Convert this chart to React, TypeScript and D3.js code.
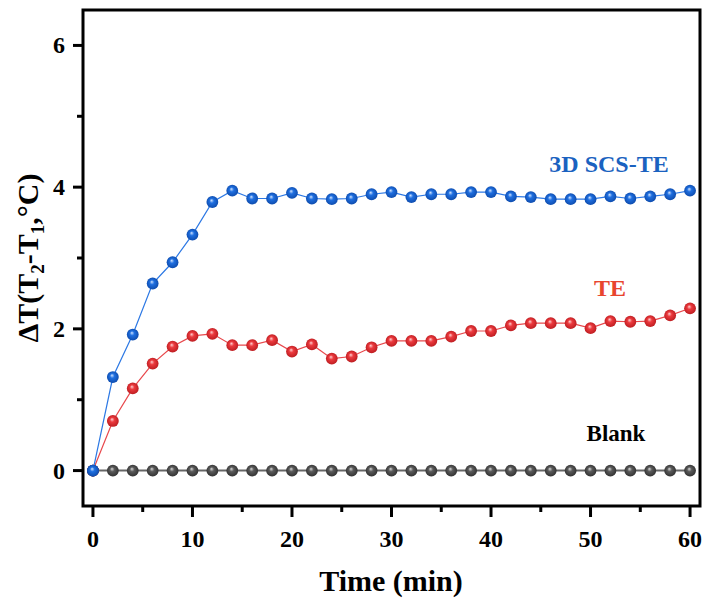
import React from "react";
import * as d3 from "d3";

const times = d3.range(0, 61, 2);
const blankValues = times.map(() => 0);
const scsteValues = [0, 1.32, 1.92, 2.64, 2.94, 3.33, 3.79, 3.95, 3.84, 3.84, 3.92, 3.84, 3.83, 3.84, 3.9, 3.93, 3.86, 3.9, 3.9, 3.93, 3.93, 3.87, 3.86, 3.83, 3.83, 3.83, 3.87, 3.84, 3.87, 3.9, 3.95];
const teValues = [0, 0.7, 1.16, 1.51, 1.75, 1.9, 1.93, 1.77, 1.77, 1.84, 1.68, 1.78, 1.58, 1.61, 1.74, 1.83, 1.83, 1.83, 1.89, 1.97, 1.97, 2.05, 2.08, 2.08, 2.08, 2.01, 2.11, 2.1, 2.11, 2.19, 2.29];
const xTicks = [0, 10, 20, 30, 40, 50, 60];
const xMinor = [5, 15, 25, 35, 45, 55];
const yTicks = [0, 2, 4, 6];
const yMinor = [1, 3, 5];

const series = [
  { name: "Blank", values: blankValues, line: "#666666", lw: 2, grad: "gGray", c0: "#d8d8d8", c1: "#5a5a5a", c2: "#2e2e2e" },
  { name: "TE", values: teValues, line: "#e8484c", lw: 1.2, grad: "gRed", c0: "#ffd0d0", c1: "#ec3a3e", c2: "#b81a1e" },
  { name: "3D SCS-TE", values: scsteValues, line: "#2c78e4", lw: 1.2, grad: "gBlue", c0: "#cfe3ff", c1: "#1f6fe0", c2: "#0c48a8" },
];

const FONT = "'Liberation Serif', 'Times New Roman', serif";

export default function App() {
  const left = 83, right = 700, top = 10, bottom = 506;
  const x = d3.scaleLinear().domain([-1, 61]).range([left, right]);
  const y = d3.scaleLinear().domain([-0.5, 6.5]).range([bottom, top]);
  const line = d3.line<number>().x((_, i) => x(times[i])).y((d) => y(d));

  return (
    <svg width={708} height={608} style={{ position: "absolute", left: 0, top: 0, background: "#fff" }} fontFamily={FONT}>
      <defs>
        {series.map((s) => (
          <radialGradient key={s.grad} id={s.grad} cx="0.5" cy="0.5" r="0.55" fx="0.42" fy="0.35">
            <stop offset="0" stopColor={s.c0} />
            <stop offset="0.35" stopColor={s.c1} />
            <stop offset="1" stopColor={s.c2} />
          </radialGradient>
        ))}
      </defs>
      <rect x={0} y={0} width={708} height={608} fill="#fff" />
      {series.map((s) => (
        <g key={s.name}>
          <path d={line(s.values) || ""} fill="none" stroke={s.line} strokeWidth={s.lw} />
          {s.values.map((v, i) => (
            <circle key={i} cx={x(times[i])} cy={y(v)} r={5.9} fill={`url(#${s.grad})`} />
          ))}
        </g>
      ))}
      <circle cx={x(0)} cy={y(scsteValues[0])} r={5.9} fill="url(#gBlue)" />

      <rect x={left} y={top} width={right - left} height={bottom - top} fill="none" stroke="#000" strokeWidth={3} />

      {yTicks.map((t) => (
        <g key={"y" + t}>
          <line x1={left - 10} x2={left} y1={y(t)} y2={y(t)} stroke="#000" strokeWidth={3} />
          <text x={left - 18} y={y(t) + 8} textAnchor="end" fontSize={24} fontWeight="bold">{t}</text>
        </g>
      ))}
      {yMinor.map((t) => (
        <line key={"ym" + t} x1={left - 6} x2={left} y1={y(t)} y2={y(t)} stroke="#000" strokeWidth={3} />
      ))}
      {xTicks.map((t) => (
        <g key={"x" + t}>
          <line x1={x(t)} x2={x(t)} y1={bottom} y2={bottom + 11} stroke="#000" strokeWidth={3} />
          <text x={x(t)} y={547} textAnchor="middle" fontSize={24} fontWeight="bold">{t}</text>
        </g>
      ))}
      {xMinor.map((t) => (
        <line key={"xm" + t} x1={x(t)} x2={x(t)} y1={bottom} y2={bottom + 6} stroke="#000" strokeWidth={3} />
      ))}

      <text x={391} y={591} textAnchor="middle" fontSize={30} fontWeight="bold">Time (min)</text>
      <text transform="translate(38,258) rotate(-90)" textAnchor="middle" fontSize={30} fontWeight="bold">
        ΔT(T<tspan fontSize={19} dy={6}>2</tspan><tspan dy={-6}>-T</tspan><tspan fontSize={19} dy={6}>1</tspan><tspan dy={-6}>,°C)</tspan>
      </text>

      <text x={609} y={172} textAnchor="middle" fontSize={24} fontWeight="bold" fill="#1a62c0">3D SCS-TE</text>
      <text x={610} y={296} textAnchor="middle" fontSize={24} fontWeight="bold" fill="#e8452e">TE</text>
      <text x={616} y={441} textAnchor="middle" fontSize={23} fontWeight="bold" fill="#000">Blank</text>
    </svg>
  );
}
